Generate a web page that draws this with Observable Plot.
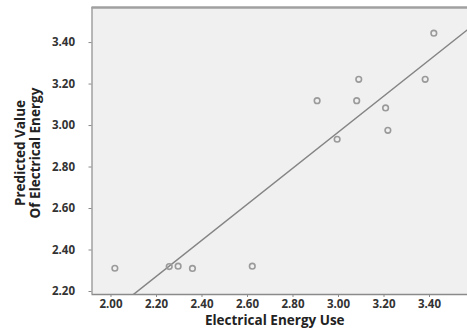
<!DOCTYPE html>
<html><head><meta charset="utf-8">
<script src="https://cdn.jsdelivr.net/npm/d3@7"></script>
<script src="https://cdn.jsdelivr.net/npm/@observablehq/plot@0.6"></script>
<style>
html,body{margin:0;padding:0;background:#fff;}
</style>
</head><body>
<div id="chart"></div>
<script>
const actual = [3.419, 3.089, 3.381, 2.906, 3.080, 3.207, 3.217, 2.994, 2.017, 2.256, 2.295, 2.358, 2.621];
const predicted = [3.445, 3.223, 3.223, 3.120, 3.120, 3.085, 2.977, 2.934, 2.312, 2.320, 2.322, 2.311, 2.322];
const fitIntercept = 0.362;
const fitSlope = 0.869;
const xTicks = [2.0, 2.2, 2.4, 2.6, 2.8, 3.0, 3.2, 3.4];
const yTicks = [2.2, 2.4, 2.6, 2.8, 3.0, 3.2, 3.4];
const xLabel = "Electrical Energy Use";
const yLabel = "Predicted Value\nOf Electrical Energy";

const xDomain = [1.9165, 3.567];
const yDomain = [2.1855, 3.569];
const pts = actual.map((a, i) => ({x: a, y: predicted[i]}));
const fit = xDomain.map(x => ({x, y: fitIntercept + fitSlope * x}));

const chart = Plot.plot({
  width: 467, height: 329,
  marginLeft: 91.5, marginRight: 0, marginTop: 7, marginBottom: 35,
  style: {fontFamily: "'Open Sans', sans-serif", fontSize: "11.5px", fontWeight: "bold", color: "#333", background: "#fff"},
  x: {domain: xDomain, label: null},
  y: {domain: yDomain, label: null},
  marks: [
    Plot.frame({fill: "#f0f0f0", stroke: null}),
    Plot.line(fit, {x: "x", y: "y", stroke: "#858585", strokeWidth: 1.5, clip: true}),
    Plot.dot(pts, {x: "x", y: "y", r: 2.8, stroke: "#9a9a9a", strokeWidth: 1.6, fill: "none"}),
    Plot.ruleY([yDomain[1]], {stroke: "#a0a0a0", strokeWidth: 2.5}),
    Plot.ruleY([yDomain[0]], {stroke: "#8a8a8a", strokeWidth: 1.5}),
    Plot.ruleX([xDomain[0]], {stroke: "#a0a0a0", strokeWidth: 1.5}),
    Plot.axisX({ticks: xTicks, tickFormat: d3.format(".2f"), tickSize: 3, tickPadding: 2, stroke: "#8a8a8a", fill: "#333", fontWeight: "bold", fontSize: 11.5, label: null}),
    Plot.axisY({ticks: yTicks, tickFormat: d3.format(".2f"), tickSize: 3, tickPadding: 14, stroke: "#8a8a8a", fill: "#333", fontWeight: "bold", fontSize: 11.5, label: null}),
    Plot.text([xLabel], {frameAnchor: "bottom", textAnchor: "middle", lineAnchor: "middle", text: d => d, dy: 26, dx: -5, fontSize: 13.5, fontWeight: "bold", fill: "#222"}),
    Plot.text([yLabel], {frameAnchor: "left", textAnchor: "middle", lineAnchor: "middle", text: d => d, rotate: -90, dx: -64, dy: 2, fontSize: 13.5, fontWeight: "bold", fill: "#222", lineHeight: 1.1})
  ]
});
document.getElementById("chart").appendChild(chart);
</script>
</body></html>
